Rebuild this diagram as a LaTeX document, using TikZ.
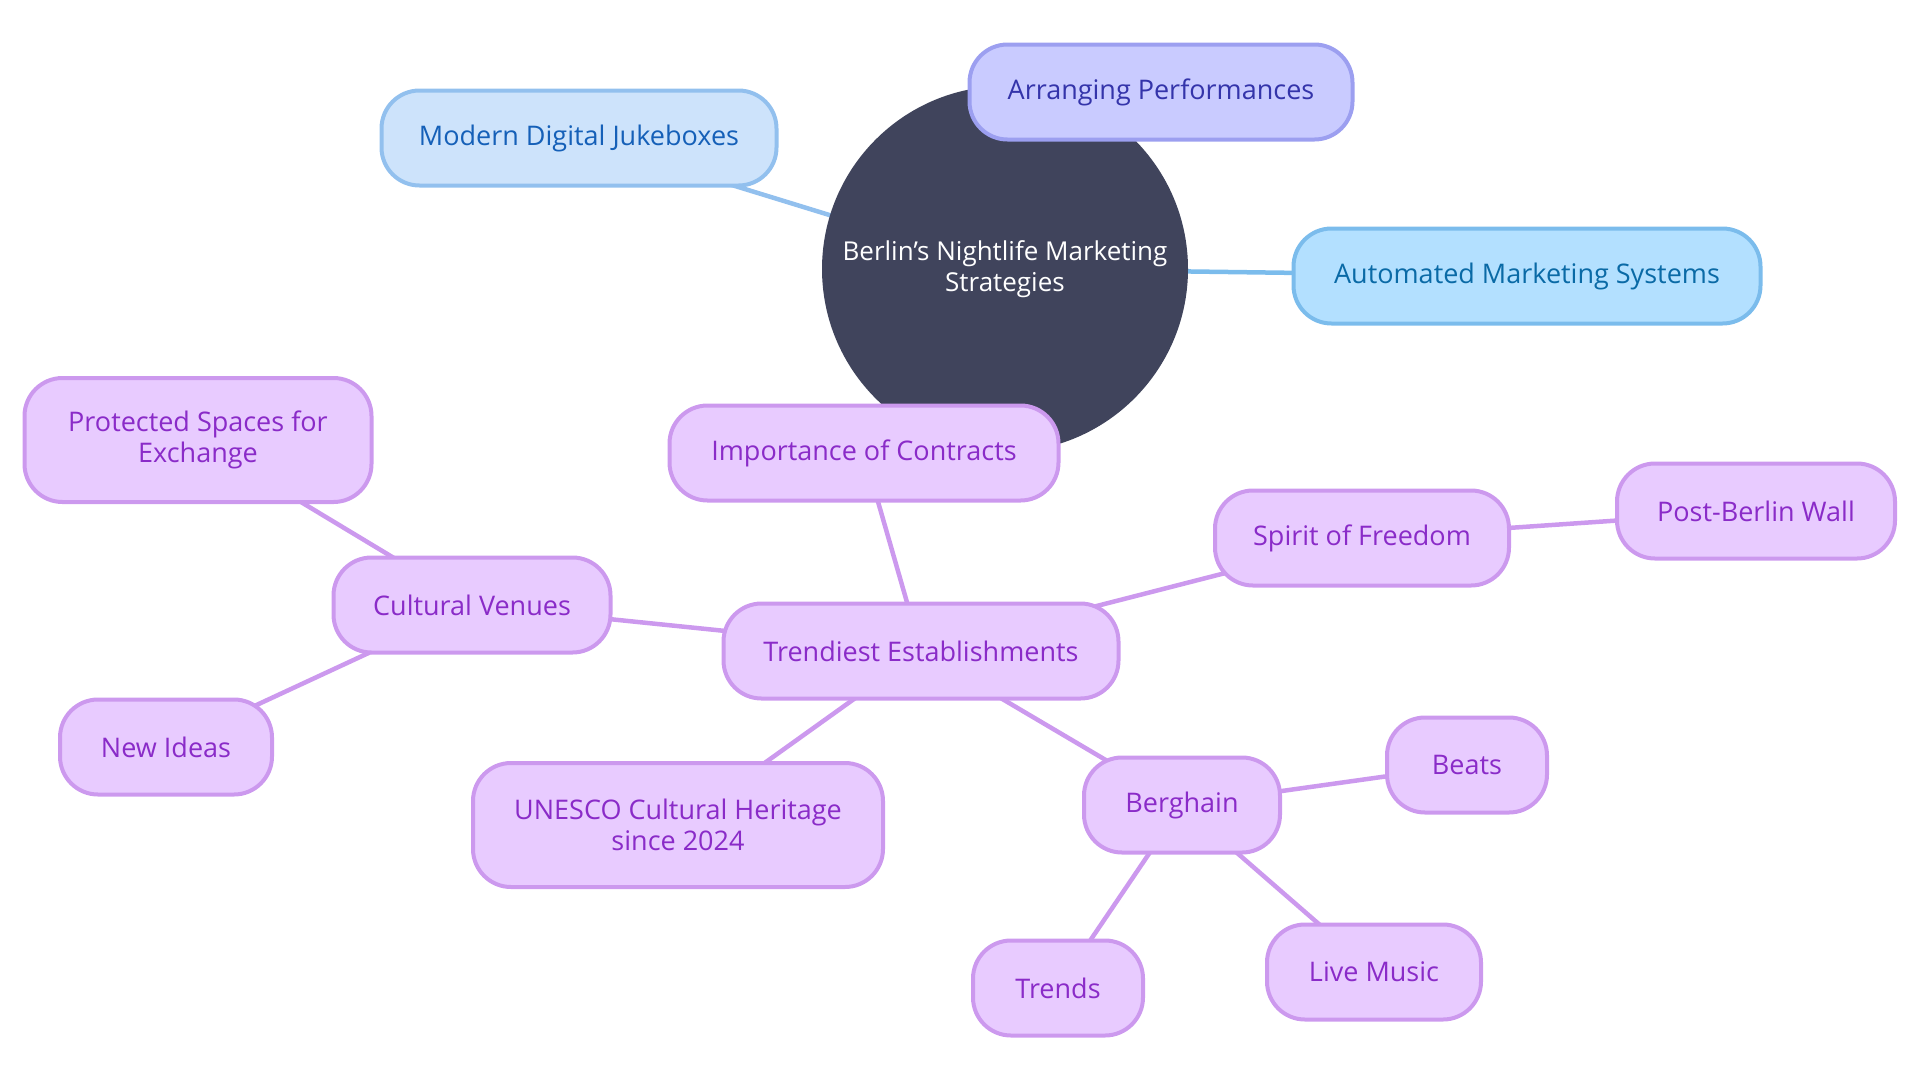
\documentclass[tikz,border=0pt]{standalone}
\usepackage{fontspec}
\setmainfont{Open Sans}
\definecolor{mmroot}{RGB}{64,68,92}
\definecolor{mmpurplefill}{RGB}{232,203,255}
\definecolor{mmpurpleline}{RGB}{204,153,238}
\definecolor{mmpurpletext}{RGB}{138,43,200}
\definecolor{mmskyfill}{RGB}{205,227,251}
\definecolor{mmskyline}{RGB}{146,192,238}
\definecolor{mmskytext}{RGB}{21,96,184}
\definecolor{mmindigofill}{RGB}{201,203,255}
\definecolor{mmindigoline}{RGB}{156,159,240}
\definecolor{mmindigotext}{RGB}{52,52,170}
\definecolor{mmcyanfill}{RGB}{179,224,255}
\definecolor{mmcyanline}{RGB}{123,188,236}
\definecolor{mmcyantext}{RGB}{10,106,166}
\usetikzlibrary{positioning,backgrounds}
\tikzset{
  mmbox/.style={draw, rounded corners=38pt, line width=4pt, minimum height=95pt,
    align=center, inner sep=0pt, font=\fontsize{27}{31}\selectfont},
  idea/.style={mmbox, fill=mmpurplefill, draw=mmpurpleline, text=mmpurpletext},
  skybox/.style={mmbox, fill=mmskyfill, draw=mmskyline, text=mmskytext},
  indigobox/.style={mmbox, fill=mmindigofill, draw=mmindigoline, text=mmindigotext},
  cyanbox/.style={mmbox, fill=mmcyanfill, draw=mmcyanline, text=mmcyantext},
  link/.style={line width=4.5pt, draw=mmpurpleline},
}
\begin{document}
\begin{tikzpicture}[x=1pt, y=-1pt]
  \useasboundingbox (0,0) rectangle (1920,1080);

  % Root
  \node[circle, fill=mmroot, text=white, minimum size=366pt, inner sep=0pt, align=center,
    font=\fontsize{26}{31}\selectfont] (root) at (1005,269) {Berlin's Nightlife Marketing\\Strategies};

  % Top branches
  \node[skybox, minimum width=395pt] (jukebox) at (579,138) {Modern Digital Jukeboxes};
  \node[indigobox, minimum width=383pt] (perform) at (1161,92) {Arranging Performances};
  \node[cyanbox, minimum width=467pt] (automated) at (1527,276) {Automated Marketing Systems};

  % Purple branch
  \node[idea, minimum width=389pt] (contracts) at (864,453) {Importance of Contracts};
  \node[idea, minimum width=395pt] (trendiest) at (921,651) {Trendiest Establishments};
  \node[idea, minimum width=277pt] (venues) at (472,605) {Cultural Venues};
  \node[idea, minimum width=347pt, minimum height=124pt] (spaces) at (198,440) {Protected Spaces for\\Exchange};
  \node[idea, minimum width=212pt] (ideas) at (166,747) {New Ideas};
  \node[idea, minimum width=410pt, minimum height=124pt] (unesco) at (678,825) {UNESCO Cultural Heritage\\since 2024};
  \node[idea, minimum width=294pt] (freedom) at (1362,538) {Spirit of Freedom};
  \node[idea, minimum width=278pt] (wall) at (1756,511) {Post-Berlin Wall};
  \node[idea, minimum width=196pt] (berghain) at (1182,805) {Berghain};
  \node[idea, minimum width=160pt] (beats) at (1467,765) {Beats};
  \node[idea, minimum width=214pt] (music) at (1374,972) {Live Music};
  \node[idea, minimum width=170pt] (trends) at (1058,988) {Trends};

  % Connectors
  \begin{scope}[on background layer]
    \draw[link, draw=mmskyline] (root.center) -- (jukebox.center);
    \draw[link, draw=mmindigoline] (root.center) -- (perform.center);
    \draw[link, draw=mmcyanline] (root.center) -- (automated.center);
    \draw[link] (root.center) -- (contracts.center);
    \draw[link] (contracts.center) -- (trendiest.center);
    \draw[link] (trendiest.center) -- (venues.center);
    \draw[link] (venues.center) -- (spaces.center);
    \draw[link] (venues.center) -- (ideas.center);
    \draw[link] (trendiest.center) -- (unesco.center);
    \draw[link] (trendiest.center) -- (freedom.center);
    \draw[link] (freedom.center) -- (wall.center);
    \draw[link] (trendiest.center) -- (berghain.center);
    \draw[link] (berghain.center) -- (beats.center);
    \draw[link] (berghain.center) -- (music.center);
    \draw[link] (berghain.center) -- (trends.center);
  \end{scope}
\end{tikzpicture}
\end{document}
